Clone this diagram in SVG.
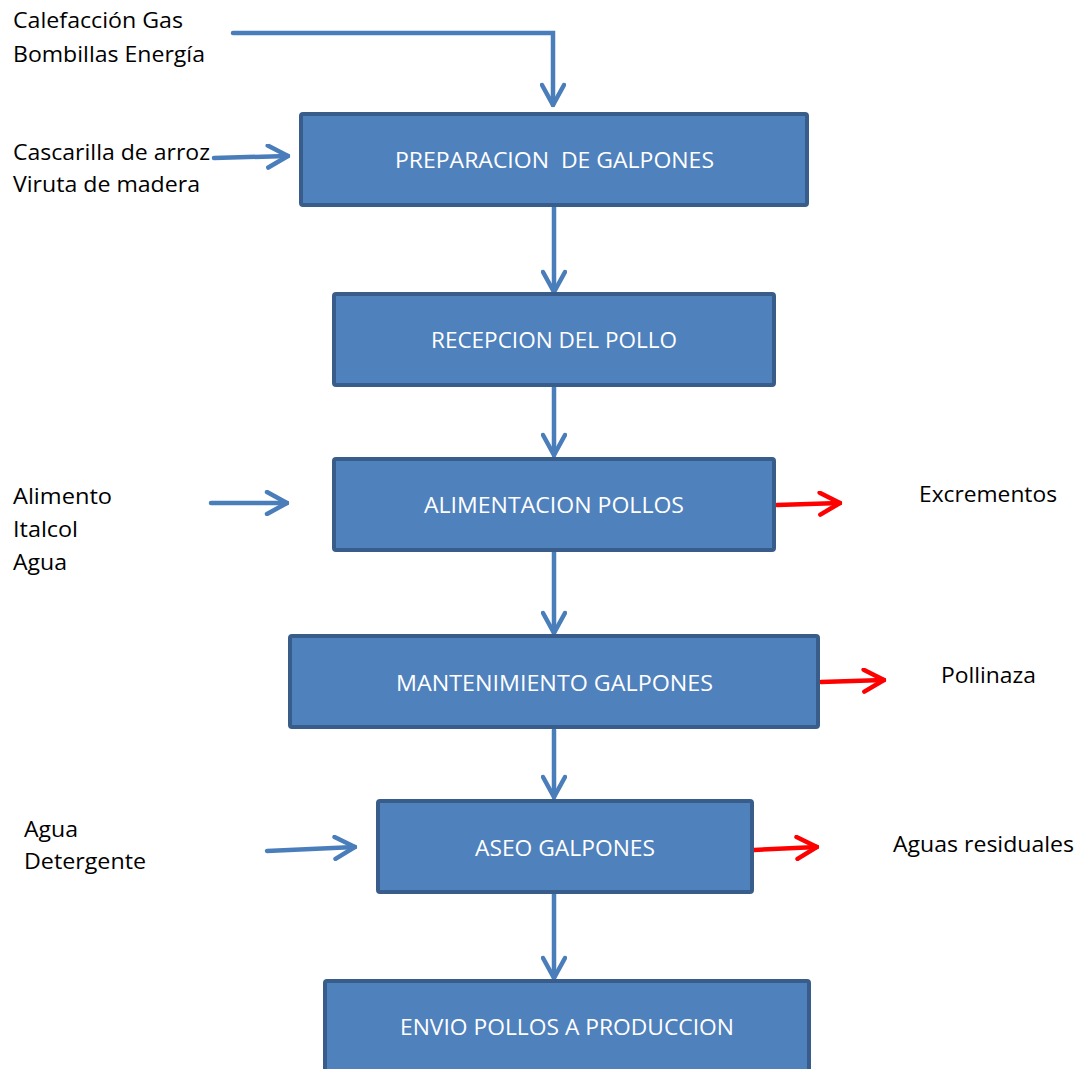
<svg xmlns="http://www.w3.org/2000/svg" width="1083" height="1069" viewBox="0 0 1083 1069">
<defs>
<style>
.box{fill:#4f81bd;stroke:#385d8a;stroke-width:4}
.bt{font-family:"Open Sans",Lato,sans-serif;font-size:21.5px;fill:#ffffff;text-anchor:middle;white-space:pre}
.lb{font-family:"Open Sans",Lato,sans-serif;font-size:21.5px;fill:#000000}
.cb{fill:none;stroke:#4a7ebb;stroke-width:4.5;stroke-linecap:round}
.cr{fill:none;stroke:#ff0000;stroke-width:4.5;stroke-linecap:round}
</style>
<marker id="ab" viewBox="-24 -13 26 26" markerWidth="26" markerHeight="26" refX="0" refY="0" orient="auto" markerUnits="userSpaceOnUse">
<path d="M -20 -11 L 0 0 L -20 11" fill="none" stroke="#4a7ebb" stroke-width="4.5" stroke-linecap="round" stroke-linejoin="miter"/>
</marker>
<marker id="ar" viewBox="-24 -13 26 26" markerWidth="26" markerHeight="26" refX="0" refY="0" orient="auto" markerUnits="userSpaceOnUse">
<path d="M -20 -11 L 0 0 L -20 11" fill="none" stroke="#ff0000" stroke-width="4.5" stroke-linecap="round" stroke-linejoin="miter"/>
</marker>
</defs>
<rect width="1083" height="1069" fill="#ffffff"/>
<g id="connectors">
<path class="cb" d="M 233 33 L 553 33 L 553 105" marker-end="url(#ab)"/>
<path class="cb" d="M 214 158 L 288 156" marker-end="url(#ab)"/>
<path class="cb" d="M 554 207 L 554 292" marker-end="url(#ab)"/>
<path class="cb" d="M 554 372 L 554 455" marker-end="url(#ab)"/>
<path class="cb" d="M 211 503 L 287 503" marker-end="url(#ab)"/>
<path class="cb" d="M 554 552 L 554 633" marker-end="url(#ab)"/>
<path class="cb" d="M 554 730 L 554 797" marker-end="url(#ab)"/>
<path class="cb" d="M 267 851 L 355 847" marker-end="url(#ab)"/>
<path class="cb" d="M 554 893 L 554 978" marker-end="url(#ab)"/>
<path class="cr" d="M 777 505 L 840 503" marker-end="url(#ar)"/>
<path class="cr" d="M 821 682 L 884 680" marker-end="url(#ar)"/>
<path class="cr" d="M 754 850 L 817 847" marker-end="url(#ar)"/>
</g>
<g id="n1"><rect class="box" x="301" y="114" width="506" height="91" rx="2"/><text class="bt" x="554.5" y="168" textLength="319" lengthAdjust="spacingAndGlyphs" xml:space="preserve">PREPARACION  DE GALPONES</text></g>
<g id="n2"><rect class="box" x="334" y="294" width="440" height="91" rx="2"/><text class="bt" x="554" y="348" textLength="246" lengthAdjust="spacingAndGlyphs">RECEPCION DEL POLLO</text></g>
<g id="n3"><rect class="box" x="334" y="459" width="440" height="91" rx="2"/><text class="bt" x="554" y="513" textLength="260" lengthAdjust="spacingAndGlyphs">ALIMENTACION POLLOS</text></g>
<g id="n4"><rect class="box" x="290" y="636" width="528" height="91" rx="2"/><text class="bt" x="554.5" y="691" textLength="317" lengthAdjust="spacingAndGlyphs">MANTENIMIENTO GALPONES</text></g>
<g id="n5"><rect class="box" x="378" y="801" width="374" height="91" rx="2"/><text class="bt" x="565" y="856" textLength="180" lengthAdjust="spacingAndGlyphs">ASEO GALPONES</text></g>
<g id="n6"><rect class="box" x="325" y="981" width="484" height="100" rx="2"/><text class="bt" x="567" y="1035" textLength="334" lengthAdjust="spacingAndGlyphs">ENVIO POLLOS A PRODUCCION</text></g>
<g id="labels">
<text class="lb" x="13" y="28" textLength="170" lengthAdjust="spacingAndGlyphs">Calefacción Gas</text>
<text class="lb" x="13" y="62" textLength="192" lengthAdjust="spacingAndGlyphs">Bombillas Energía</text>
<text class="lb" x="13" y="160" textLength="197" lengthAdjust="spacingAndGlyphs">Cascarilla de arroz</text>
<text class="lb" x="13" y="192" textLength="187" lengthAdjust="spacingAndGlyphs">Viruta de madera</text>
<text class="lb" x="13" y="504" textLength="99" lengthAdjust="spacingAndGlyphs">Alimento</text>
<text class="lb" x="13" y="537" textLength="65" lengthAdjust="spacingAndGlyphs">Italcol</text>
<text class="lb" x="13" y="570" textLength="54" lengthAdjust="spacingAndGlyphs">Agua</text>
<text class="lb" x="24" y="837" textLength="54" lengthAdjust="spacingAndGlyphs">Agua</text>
<text class="lb" x="24" y="869" textLength="122" lengthAdjust="spacingAndGlyphs">Detergente</text>
<text class="lb" x="919" y="502" textLength="138" lengthAdjust="spacingAndGlyphs">Excrementos</text>
<text class="lb" x="941" y="683" textLength="95" lengthAdjust="spacingAndGlyphs">Pollinaza</text>
<text class="lb" x="893" y="852" textLength="181" lengthAdjust="spacingAndGlyphs">Aguas residuales</text>
</g>
</svg>
